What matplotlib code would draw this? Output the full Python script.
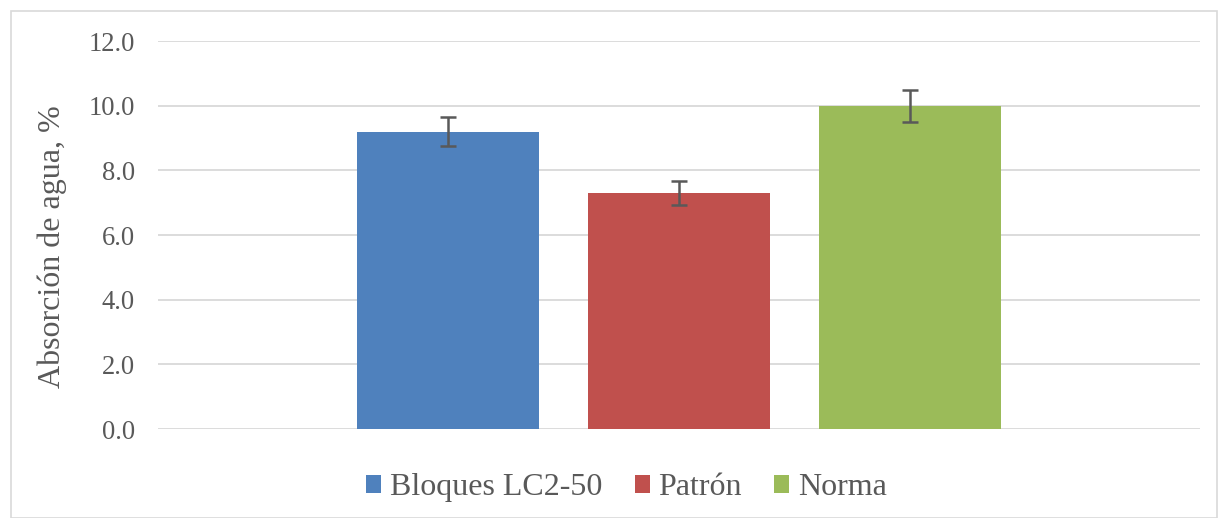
import numpy as np
import matplotlib.pyplot as plt
from matplotlib.patches import Rectangle

# data
series = ['Bloques LC2-50', 'Patrón', 'Norma']
values = [9.2, 7.3, 10.0]
errors = [0.46, 0.36, 0.5]
colors = ['#4F81BD', '#C0504D', '#9BBB59']
yticks = [0, 2, 4, 6, 8, 10, 12]

plt.rcParams['font.family'] = ['Liberation Serif', 'DejaVu Serif']
text_color = '#595959'
grid_color = '#d9d9d9'

fig = plt.figure(figsize=(12.19, 5.18), dpi=100)
ax = fig.add_axes([0.1296, 0.1718, 0.8548, 0.749])

# outer chart border
fig.patches.append(Rectangle((11 / 1219, 0), 1 - 13 / 1219, 1 - 11 / 518,
                             transform=fig.transFigure, fill=False,
                             edgecolor=grid_color, linewidth=1.2))

x = np.arange(len(series)) - 1
handles = []
for i in range(len(series)):
    b = ax.bar(x[i], values[i], width=0.788, color=colors[i], label=series[i], zorder=2)
    handles.append(b)
    ax.errorbar(x[i], values[i], yerr=errors[i], fmt='none', ecolor='#595959',
                elinewidth=1.8, capsize=6, capthick=1.8, zorder=3)

ax.set_xlim(-2.255, 2.255)
ax.set_ylim(0, 12)
ax.set_yticks(yticks)
ax.set_yticklabels([f'{t:.1f}' for t in yticks], fontsize=19.2, color=text_color)
ax.set_xticks([])
ax.tick_params(axis='y', length=0, pad=16.5)
ax.yaxis.grid(True, color=grid_color, linewidth=1.3, zorder=0)
ax.set_axisbelow(True)
for s in ax.spines.values():
    s.set_visible(False)

ax.set_ylabel('Absorción de agua, %', fontsize=23, color=text_color)
ax.yaxis.set_label_coords(-0.0872, 0.47)

leg = fig.legend(handles=handles, labels=series, loc='center', bbox_to_anchor=(0.514, 0.058),
                 ncol=3, frameon=False, fontsize=23, handlelength=0.47, handleheight=0.47,
                 handletextpad=0.28, columnspacing=1.0)
for t in leg.get_texts():
    t.set_color(text_color)

fig.savefig('out.png', dpi=100)
